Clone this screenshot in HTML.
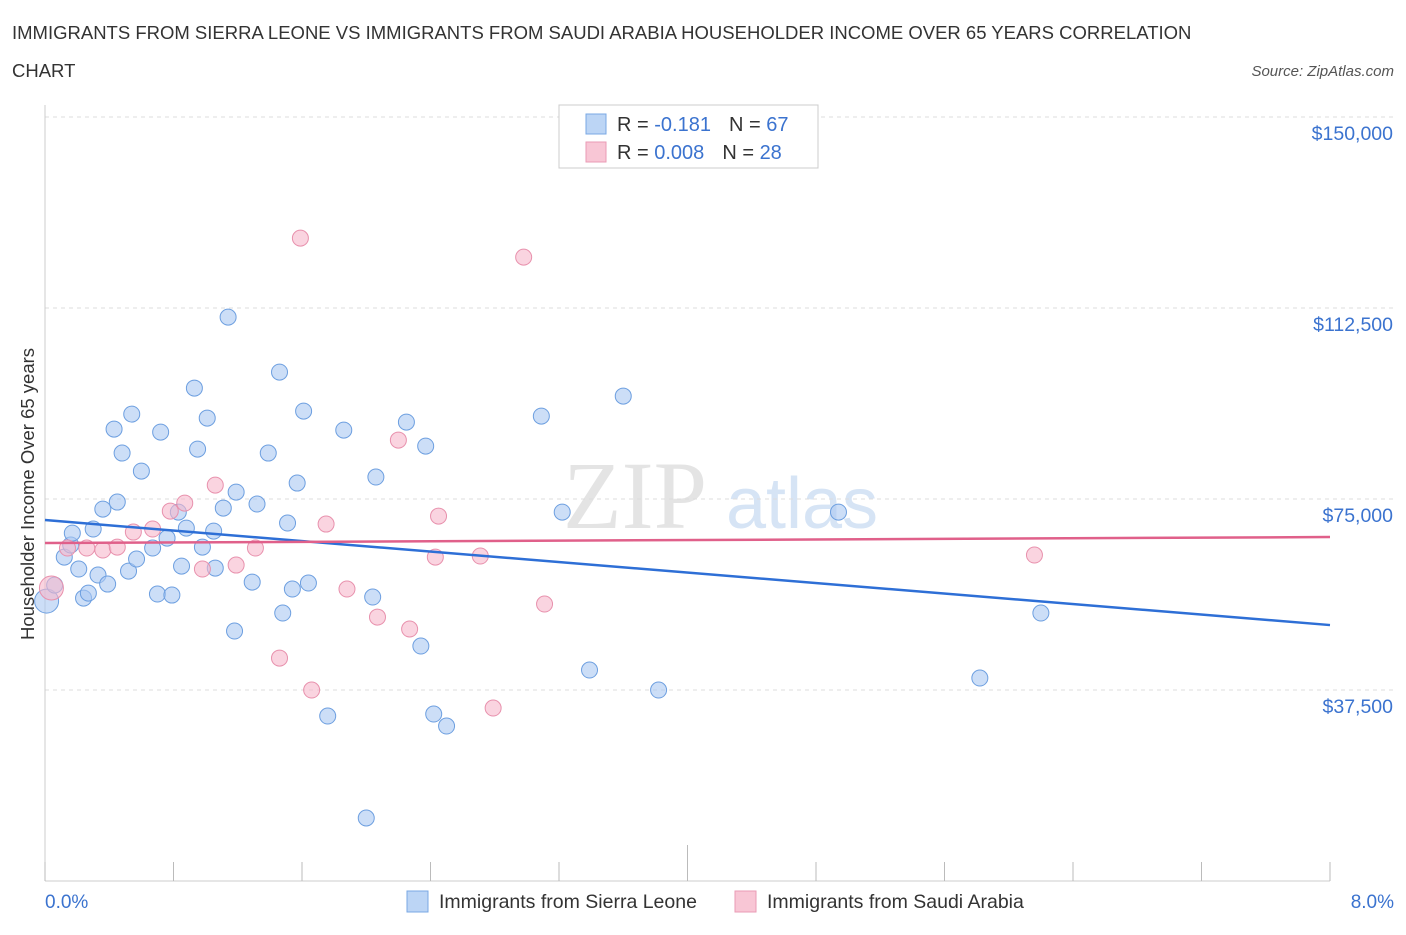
<!DOCTYPE html>
<html><head><meta charset="utf-8"><style>
body{margin:0;background:#fff;font-family:"Liberation Sans",sans-serif;}
</style></head><body>
<svg width="1406" height="930" xmlns="http://www.w3.org/2000/svg" font-family="Liberation Sans, sans-serif">
<text x="12" y="39" font-size="18.5" fill="#333">IMMIGRANTS FROM SIERRA LEONE VS IMMIGRANTS FROM SAUDI ARABIA HOUSEHOLDER INCOME OVER 65 YEARS CORRELATION</text>
<text x="12" y="77" font-size="18.5" fill="#333">CHART</text>
<text x="1394" y="76" font-size="15" fill="#555" font-style="italic" text-anchor="end">Source: ZipAtlas.com</text>
<text x="635" y="528" font-size="96" fill="#e4e4e4" font-family="Liberation Serif, serif" text-anchor="middle">ZIP</text>
<text x="802" y="528" font-size="72" fill="#d6e4f5" text-anchor="middle">atlas</text>
<g id="grid"></g>
<g id="axes"></g>
<g id="marks"></g>
<text transform="translate(34,494) rotate(-90)" font-size="18.5" fill="#333" text-anchor="middle">Householder Income Over 65 years</text>
<text x="45" y="908" font-size="19" fill="#3b73cf">0.0%</text>
<text x="1394" y="908" font-size="19" fill="#3b73cf" text-anchor="end">8.0%</text>
<g>
<rect x="559" y="105" width="259" height="63" fill="#fff" stroke="#ccc"/>
<rect x="586" y="114" width="20" height="20" fill="#bcd5f5" stroke="#7aa8e4"/>
<rect x="586" y="142" width="20" height="20" fill="#f8c6d5" stroke="#ea9bb5"/>
<text x="617" y="131" font-size="20" fill="#333">R = <tspan fill="#3b73cf"> -0.181</tspan><tspan dx="18">N = </tspan><tspan fill="#3b73cf">67</tspan></text>
<text x="617" y="159" font-size="20" fill="#333">R = <tspan fill="#3b73cf">0.008</tspan><tspan dx="18">N = </tspan><tspan fill="#3b73cf">28</tspan></text>
</g>
<g>
<rect x="407" y="891" width="21" height="21" fill="#bcd5f5" stroke="#7aa8e4"/>
<text x="439" y="908" font-size="19.5" fill="#333">Immigrants from Sierra Leone</text>
<rect x="735" y="891" width="21" height="21" fill="#f8c6d5" stroke="#ea9bb5"/>
<text x="767" y="908" font-size="19.5" fill="#333">Immigrants from Saudi Arabia</text>
</g>
</svg>
<script>
const yTicks=[37500,75000,112500,150000];
const yTickLabels=["$37,500","$75,000","$112,500","$150,000"];
const xTicks=[0,0.8,1.6,2.4,3.2,4.0,4.8,5.6,6.4,7.2,8.0];
const blueX=[0.01,0.06,0.12,0.16,0.17,0.21,0.24,0.27,0.30,0.33,0.36,0.39,0.43,0.45,0.48,0.52,0.54,0.57,0.60,0.67,0.70,0.72,0.76,0.79,0.83,0.85,0.88,0.93,0.95,0.98,1.01,1.05,1.06,1.11,1.14,1.18,1.19,1.29,1.32,1.39,1.46,1.48,1.51,1.54,1.57,1.61,1.64,1.76,1.86,2.00,2.04,2.06,2.25,2.34,2.37,2.42,2.50,3.09,3.22,3.39,3.60,3.82,4.94,5.82,6.20];
const blueY=[54960,58100,63600,65960,68310,61250,55550,56530,69100,60070,73020,58300,88730,74400,84020,60850,91670,63210,80480,65370,56340,88140,67330,56140,72430,61830,69290,96780,84800,65560,90890,68700,61440,73220,110710,49080,76360,58690,74010,84020,99920,52610,70280,57320,78130,92260,58500,32390,88530,12370,55750,79310,90100,46130,85390,32780,30430,91280,72430,41420,95210,37490,72430,39850,52610];
const pinkX=[0.04,0.14,0.26,0.36,0.45,0.55,0.67,0.78,0.87,0.98,1.06,1.19,1.31,1.46,1.59,1.66,1.75,1.88,2.07,2.20,2.27,2.43,2.45,2.71,2.79,2.98,3.11,6.16];
const pinkY=[57520,65370,65370,64980,65560,68510,69100,72630,74200,61250,77730,62030,65370,43770,126220,37490,70080,57320,51820,86570,49470,63600,71650,63800,33960,122490,54380,64000];
const blueTrend=[70870,50250];
const pinkTrend=[66350,67530];
const NS="http://www.w3.org/2000/svg";
const X=v=>45+v*(1285/8);
const Y=v=>881-v*(191/37500);
function mk(t,a,p){const e=document.createElementNS(NS,t);for(const k in a)e.setAttribute(k,a[k]);p.appendChild(e);return e;}
const grid=document.getElementById('grid'),axes=document.getElementById('axes'),marks=document.getElementById('marks');
yTicks.forEach((t,i)=>{
 const l=mk('line',{x1:45,x2:1394,y1:Y(t),y2:Y(t),stroke:'#ddd','stroke-dasharray':'4,4'},grid);
 
 
 const tx=mk('text',{x:1393,y:Y(t)+23,'font-size':19.5,fill:'#3b73cf','text-anchor':'end'},grid);
 tx.textContent=yTickLabels[i];
 
 
});
mk('line',{x1:45,x2:45,y1:105,y2:881,stroke:'#ccc'},axes);
mk('line',{x1:45,x2:1330,y1:881,y2:881,stroke:'#ccc'},axes);
xTicks.forEach((t,i)=>{
 const l=mk('line',{x1:X(t),x2:X(t),y1:881,y2:i==5?845:862,stroke:'#bbb'},axes);
 
 
});
blueX.forEach((x,i)=>{
 const c=mk('circle',{cx:X(x),cy:Y(blueY[i]),r:i==0?12:8,fill:'rgba(170,200,242,0.6)',stroke:'#6d9fe0','stroke-width':1},marks);
 
 
});
pinkX.forEach((x,i)=>{
 const c=mk('circle',{cx:X(x),cy:Y(pinkY[i]),r:i==0?12:8,fill:'rgba(246,184,204,0.6)',stroke:'#e891ad','stroke-width':1},marks);
 
 
});
const bl=mk('line',{x1:X(0),x2:X(8),y1:Y(blueTrend[0]),y2:Y(blueTrend[1]),stroke:'#2e6fd6','stroke-width':2.5},marks);


const pl=mk('line',{x1:X(0),x2:X(8),y1:Y(pinkTrend[0]),y2:Y(pinkTrend[1]),stroke:'#e0608a','stroke-width':2.5},marks);


</script>
</body></html>
